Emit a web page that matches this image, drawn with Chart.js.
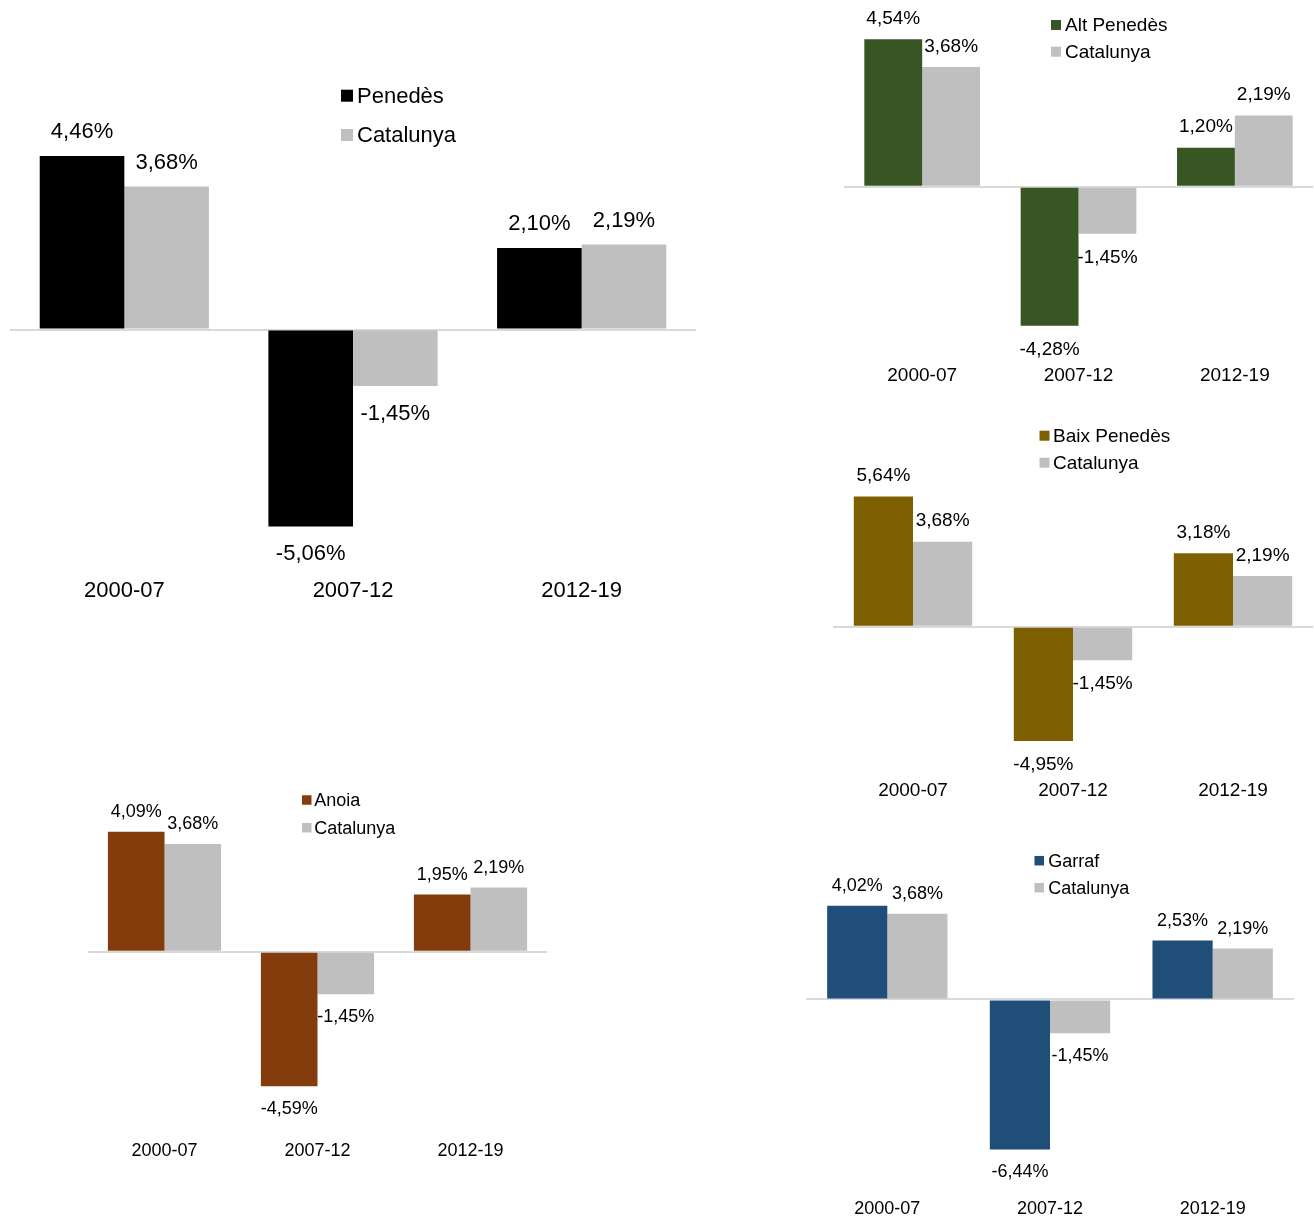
<!DOCTYPE html>
<html>
<head>
<meta charset="utf-8">
<script src="https://cdn.jsdelivr.net/npm/chart.js@4.4.1/dist/chart.umd.min.js"></script>
<style>
  html, body { margin: 0; padding: 0; background: #ffffff; overflow: hidden; }
  body { width: 1314px; height: 1217px; position: relative; }
  canvas { position: absolute; }
</style>
</head>
<body>
<canvas id="c1"></canvas>
<canvas id="c2"></canvas>
<canvas id="c3"></canvas>
<canvas id="c4"></canvas>
<canvas id="c5"></canvas>
<script>
const periods = ['2000-07', '2007-12', '2012-19'];
const catalunya = [3.68, -1.45, 2.19];
const penedes = [4.46, -5.06, 2.10];
const altPenedes = [4.54, -4.28, 1.20];
const baixPenedes = [5.64, -4.95, 3.18];
const anoia = [4.09, -4.59, 1.95];
const garraf = [4.02, -6.44, 2.53];

const GREY = '#BFBFBF';
const FONT = 'Arial, "Liberation Sans", sans-serif';

// where each panel sits on the page (px)
const panels = [
  { id: 'c1', name: 'Penedès', values: penedes, color: '#000000',
    left: 10, width: 686, top: 60, zero: 329.6, ppu: 38.9, labelY: 591, fs: 22,
    lg: { box: 341, text: 357, rows: [95.7, 135], size: 12 } },
  { id: 'c2', name: 'Alt Penedès', values: altPenedes, color: '#375623',
    left: 844, width: 469, top: 5, zero: 186.7, ppu: 32.5, labelY: 375.5, fs: 19,
    lg: { box: 1051, text: 1065, rows: [25, 51.7], size: 10 } },
  { id: 'c3', name: 'Baix Penedès', values: baixPenedes, color: '#7F6000',
    left: 833, width: 480, top: 420, zero: 626.7, ppu: 23.1, labelY: 790.3, fs: 19,
    lg: { box: 1039.5, text: 1053, rows: [435.7, 462.7], size: 10 } },
  { id: 'c4', name: 'Anoia', values: anoia, color: '#843C0C',
    left: 88, width: 459, top: 780, zero: 951.7, ppu: 29.3, labelY: 1151.3, fs: 18,
    lg: { box: 302, text: 314.3, rows: [800, 827.7], size: 9.5 } },
  { id: 'c5', name: 'Garraf', values: garraf, color: '#1F4E79',
    left: 806, width: 488, top: 840, zero: 999.5, ppu: 23.3, labelY: 1208.7, fs: 18,
    lg: { box: 1034.5, text: 1048.3, rows: [860.7, 887.7], size: 9.5 } }
];

function fmt(v) {
  return v.toFixed(2).replace('.', ',') + '%';
}

panels.forEach(function (p) {
  const lh = p.fs * 1.2;
  const bottom = p.labelY - lh / 2;
  const height = Math.round(bottom - p.top + lh);
  const yMax = (p.zero - p.top) / p.ppu;
  const yMin = -(p.top + height - lh - p.zero) / p.ppu;

  const canvas = document.getElementById(p.id);
  canvas.width = p.width;
  canvas.height = height;
  canvas.style.left = p.left + 'px';
  canvas.style.top = p.top + 'px';

  const valueLabels = {
    id: 'valueLabels',
    afterDatasetsDraw(chart) {
      const ctx = chart.ctx;
      ctx.save();
      ctx.font = p.fs + 'px ' + FONT;
      ctx.fillStyle = '#000000';
      ctx.textAlign = 'center';
      ctx.textBaseline = 'middle';
      chart.data.datasets.forEach(function (ds, i) {
        chart.getDatasetMeta(i).data.forEach(function (bar, j) {
          const v = ds.data[j];
          const y = v >= 0 ? bar.y - p.fs * 1.08 : bar.y + p.fs * 1.25;
          ctx.fillText(fmt(v), bar.x, y);
        });
      });
      ctx.restore();
    }
  };

  const boxLegend = {
    id: 'boxLegend',
    afterDraw(chart) {
      const ctx = chart.ctx;
      ctx.save();
      ctx.font = p.fs + 'px ' + FONT;
      ctx.textAlign = 'left';
      ctx.textBaseline = 'middle';
      chart.data.datasets.forEach(function (ds, i) {
        const cy = p.lg.rows[i] - p.top;
        ctx.fillStyle = ds.backgroundColor;
        ctx.fillRect(p.lg.box - p.left, cy - p.lg.size / 2, p.lg.size, p.lg.size);
        ctx.fillStyle = '#000000';
        ctx.fillText(ds.label, p.lg.text - p.left, cy + 1);
      });
      ctx.restore();
    }
  };

  new Chart(canvas.getContext('2d'), {
    type: 'bar',
    data: {
      labels: periods,
      datasets: [
        { label: p.name, data: p.values, backgroundColor: p.color, borderWidth: 0 },
        { label: 'Catalunya', data: catalunya, backgroundColor: GREY, borderWidth: 0 }
      ]
    },
    options: {
      responsive: false,
      animation: false,
      devicePixelRatio: 1,
      layout: { padding: 0 },
      datasets: {
        bar: { categoryPercentage: 0.74, barPercentage: 1.0 }
      },
      plugins: {
        legend: { display: false },
        tooltip: { enabled: false }
      },
      scales: {
        x: {
          grid: { display: false, drawTicks: false },
          border: { display: false },
          ticks: {
            color: '#000000',
            padding: 0,
            font: { size: p.fs, family: FONT }
          }
        },
        y: {
          min: yMin,
          max: yMax,
          afterBuildTicks: function (axis) { axis.ticks = [{ value: 0 }]; },
          ticks: { display: false },
          border: { display: false },
          grid: { color: '#D9D9D9', lineWidth: 2, drawTicks: false }
        }
      }
    },
    plugins: [valueLabels, boxLegend]
  });
});
</script>
</body>
</html>
